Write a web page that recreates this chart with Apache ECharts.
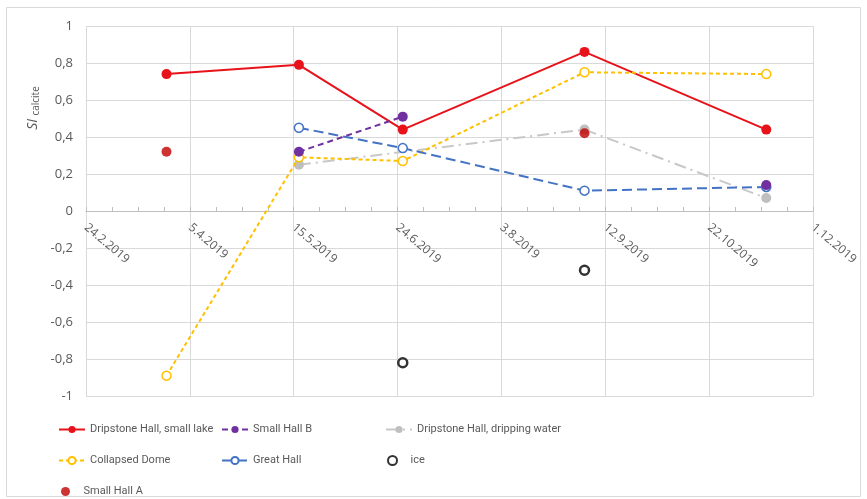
<!DOCTYPE html>
<html>
<head>
<meta charset="utf-8">
<script src="https://cdn.jsdelivr.net/npm/echarts@6/dist/echarts.min.js"></script>
<style>html,body{margin:0;padding:0;background:#fff}#c{width:867px;height:499px}</style>
</head>
<body>
<div id="c"></div>
<script>
// Base date for the x axis (day 0) and tick labels
var baseDate = [2019, 2, 24];
var tickDays = [0, 40, 80, 120, 160, 200, 240, 280];

// Sampling dates
var dates = ['2019-03-27', '2019-05-17', '2019-06-26', '2019-09-04', '2019-11-13'];

// Series values (null = no sample)
var lakeVals      = [0.74, 0.79, 0.44, 0.86, 0.44];   // Dripstone Hall, small lake
var hallBVals     = [null, 0.32, 0.51, null, 0.14];   // Small Hall B
var drippingVals  = [null, 0.25, null, 0.44, 0.07];   // Dripstone Hall, dripping water
var domeVals      = [-0.89, 0.29, 0.27, 0.75, 0.74];  // Collapsed Dome
var greatHallVals = [null, 0.45, 0.34, 0.11, 0.13];   // Great Hall
var iceVals       = [null, null, -0.82, -0.32, null]; // ice
var hallAVals     = [0.32, null, null, 0.42, null];   // Small Hall A

var yMin = -1, yMax = 1;
var gridTop = 26, gridBottom = 103, H = 499;

var DAY = 86400000;
var base = Date.UTC(baseDate[0], baseDate[1] - 1, baseDate[2]);
function dayOf(s) { var p = s.split('-'); return Math.round((Date.UTC(+p[0], +p[1] - 1, +p[2]) - base) / DAY); }
function label(d) { var t = new Date(base + d * DAY); return t.getUTCDate() + '.' + (t.getUTCMonth() + 1) + '.' + t.getUTCFullYear(); }
function pairs(vals, skipNull) {
  var out = [];
  for (var i = 0; i < vals.length; i++) {
    if (vals[i] === null) { if (!skipNull) out.push([dayOf(dates[i]), null]); }
    else out.push([dayOf(dates[i]), vals[i]]);
  }
  return out;
}
// shift of the x axis from the grid bottom up to the zero line
var plotH = H - gridTop - gridBottom;
var zeroOffset = -plotH * (0 - yMin) / (yMax - yMin);

var legendFont = { color: '#595959', fontSize: 11, fontFamily: 'Roboto, sans-serif' };
function lg(name, left, top) {
  return { orient: 'horizontal', left: left, top: top, itemWidth: 26, itemHeight: 9, itemGap: 4, textStyle: legendFont, data: [name] };
}

var chart = echarts.init(document.getElementById('c'), null, { renderer: 'canvas' });
chart.setOption({
  backgroundColor: '#ffffff',
  animation: false,
  grid: { left: 86, right: 54, top: gridTop, bottom: gridBottom, containLabel: false },
  graphic: [
    { type: 'rect', shape: { x: 6.5, y: 7.5, width: 854, height: 489 }, style: { fill: null, stroke: '#d9d9d9', lineWidth: 1 }, silent: true },
    { type: 'text', x: 33, y: 108, rotation: Math.PI / 2,
      style: { text: '{i|SI} {s|calcite}', align: 'center', verticalAlign: 'middle',
        rich: { i: { fontStyle: 'italic', fontSize: 14, fill: '#595959', fontFamily: 'Open Sans, sans-serif' },
                s: { fontSize: 10, fill: '#595959', padding: [7, 0, 0, 0], fontFamily: 'Open Sans, sans-serif' } } } }
  ],
  legend: [
    lg('Dripstone Hall, small lake', 53, 419),
    lg('Collapsed Dome', 53, 450),
    lg('Small Hall A', 56, 481),
    lg('Small Hall B', 216, 419),
    lg('Great Hall', 216, 450),
    lg('Dripstone Hall, dripping water', 380, 419),
    lg('ice', 382, 450)
  ],
  xAxis: {
    type: 'value', min: tickDays[0], max: tickDays[tickDays.length - 1], interval: 40,
    position: 'bottom', offset: zeroOffset,
    axisLine: { onZero: false, lineStyle: { color: '#bfbfbf', width: 1 } },
    axisTick: { show: true, inside: true, length: 4, lineStyle: { color: '#bfbfbf' } },
    minorTick: { show: true, splitNumber: 4, length: 4, lineStyle: { color: '#bfbfbf' } },
    splitLine: { show: true, lineStyle: { color: '#d9d9d9', width: 1 } },
    axisLabel: { rotate: -40, margin: 15, color: '#595959', fontSize: 12, fontFamily: 'Open Sans, sans-serif',
      formatter: function (v) { return label(v); } }
  },
  yAxis: {
    type: 'value', min: yMin, max: yMax, interval: 0.2,
    axisLine: { show: false }, axisTick: { show: false },
    splitLine: { show: true, lineStyle: { color: '#d9d9d9', width: 1 } },
    axisLabel: { color: '#595959', fontSize: 13, margin: 13, fontFamily: 'Open Sans, sans-serif',
      formatter: function (v) { return String(Math.round(v * 10) / 10).replace('.', ','); } }
  },
  series: [
    { name: 'Dripstone Hall, small lake', type: 'line', data: pairs(lakeVals, true), z: 3,
      symbol: 'circle', symbolSize: 10, color: '#e8121a',
      lineStyle: { color: '#e8121a', width: 2 }, itemStyle: { color: '#e8121a' } },
    { name: 'Small Hall B', type: 'line', data: pairs(hallBVals, false), connectNulls: false, z: 6,
      symbol: 'circle', symbolSize: 10, color: '#7030a0',
      lineStyle: { color: '#7030a0', width: 2, type: [6, 4] }, itemStyle: { color: '#7030a0' } },
    { name: 'Dripstone Hall, dripping water', type: 'line', data: pairs(drippingVals, true), z: 2,
      symbol: 'circle', symbolSize: 10, color: '#bfbfbf',
      lineStyle: { color: '#c8c8c8', width: 2, type: [12, 5, 2, 5] }, itemStyle: { color: '#bfbfbf' } },
    { name: 'Collapsed Dome', type: 'line', data: pairs(domeVals, true), z: 4,
      symbol: 'circle', symbolSize: 9, color: '#ffc000',
      lineStyle: { color: '#ffc000', width: 2, type: [4, 3] }, itemStyle: { color: '#ffffff', borderColor: '#ffc000', borderWidth: 1.5 } },
    { name: 'Great Hall', type: 'line', data: pairs(greatHallVals, true), z: 5,
      symbol: 'circle', symbolSize: 9, color: '#4472c4',
      lineStyle: { color: '#4472c4', width: 2, type: [10, 5] }, itemStyle: { color: '#ffffff', borderColor: '#4472c4', borderWidth: 1.5 } },
    { name: 'ice', type: 'scatter', data: pairs(iceVals, true), z: 5,
      symbol: 'circle', symbolSize: 9, color: '#000000',
      itemStyle: { color: '#ffffff', borderColor: '#000000', borderWidth: 2.5 } },
    { name: 'Small Hall A', type: 'scatter', data: pairs(hallAVals, true), z: 7,
      symbol: 'circle', symbolSize: 10, color: '#c00000',
      itemStyle: { color: '#c00000' } }
  ]
});
</script>
</body>
</html>
